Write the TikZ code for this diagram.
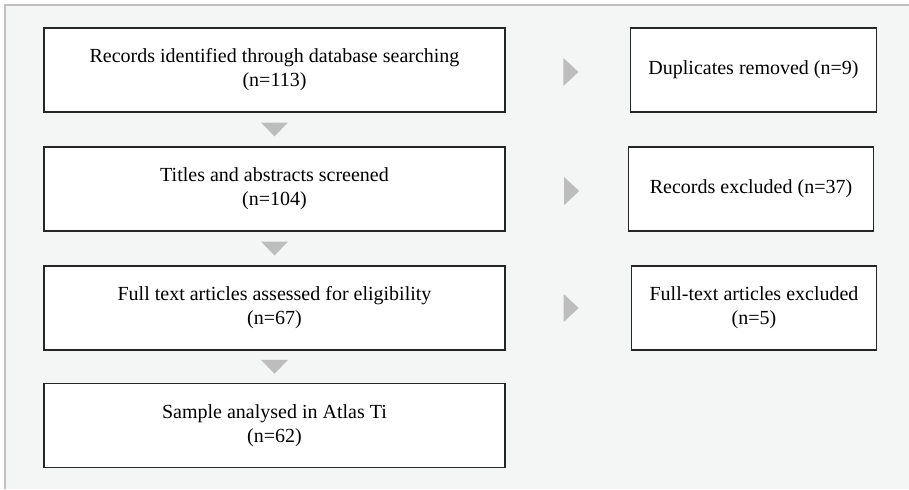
\documentclass[tikz,border=0pt]{standalone}
\usepackage{fontspec}
\setmainfont{Liberation Serif}
\usetikzlibrary{calc}
\definecolor{pagegray}{HTML}{F4F5F5}
\definecolor{framegray}{HTML}{C0C0C0}
\definecolor{arrowgray}{HTML}{BDBDBD}
\tikzset{
  mainbox/.style={draw=black!85, fill=white, line width=0.8pt, align=center,
    minimum width=345.75pt, minimum height=63pt, inner sep=0pt,
    font=\fontsize{15}{18}\selectfont},
  sidebox/.style={mainbox, minimum width=184pt},
  tri/.style={fill=arrowgray, draw=none}
}
\begin{document}
\begin{tikzpicture}[x=0.75pt, y=-0.75pt]
        \useasboundingbox (0,0) rectangle (909,489);
        \fill[pagegray] (5,5) rectangle (909,489);
        \draw[framegray, line width=0.8pt] (5,489) -- (5,5) -- (909,5);
        \node[mainbox] at (274.5, 70)   (rec)  {Records identified through database searching\\(n=113)};
        \node[mainbox] at (274.5, 189)  (scr)  {Titles and abstracts screened\\(n=104)};
        \node[mainbox] at (274.5, 308)  (full) {Full text articles assessed for eligibility\\(n=67)};
        \node[mainbox] at (274.5, 425.5) (samp) {Sample analysed in Atlas Ti\\(n=62)};
        \node[sidebox] at (753.5, 70)   (dup)  {Duplicates removed (n=9)};
        \node[sidebox] at (751, 189)    (excl) {Records excluded (n=37)};
        \node[sidebox] at (754, 308)    (fexc) {Full-text articles excluded\\(n=5)};
        % down arrows
        \coordinate (d1) at ($(rec.south)!0.5!(scr.north)$);
        \coordinate (d2) at ($(scr.south)!0.5!(full.north)$);
        \coordinate (d3) at ($(full.south)!0.5!(samp.north)$);
        \fill[tri] ($(d1)+(-13.5,-7)$) -- ($(d1)+(13.5,-7)$) -- ($(d1)+(0,7)$) -- cycle;
        \fill[tri] ($(d2)+(-13.5,-7)$) -- ($(d2)+(13.5,-7)$) -- ($(d2)+(0,7)$) -- cycle;
        \fill[tri] ($(d3)+(-13.5,-7)$) -- ($(d3)+(13.5,-7)$) -- ($(d3)+(0,7)$) -- cycle;
        % side arrows
        \coordinate (s1) at ($(rec.east)!0.5!(dup.west)+(3,2)$);
        \coordinate (s2) at ($(scr.east)!0.5!(excl.west)+(5,2)$);
        \coordinate (s3) at ($(full.east)!0.5!(fexc.west)+(3,0)$);
        \fill[tri] ($(s1)+(-7.5,-14)$) -- ($(s1)+(7.5,0)$) -- ($(s1)+(-7.5,14)$) -- cycle;
        \fill[tri] ($(s2)+(-7.5,-14)$) -- ($(s2)+(7.5,0)$) -- ($(s2)+(-7.5,14)$) -- cycle;
        \fill[tri] ($(s3)+(-7.5,-14)$) -- ($(s3)+(7.5,0)$) -- ($(s3)+(-7.5,14)$) -- cycle;
      \end{tikzpicture}
\end{document}
